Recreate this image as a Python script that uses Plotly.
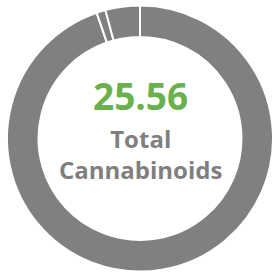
import plotly.graph_objects as go

labels = ["Cannabinoid C", "Cannabinoid B", "Cannabinoid A"]
values = [24.21, 0.28, 1.07]
total_label = "25.56"
subtitle = "Total<br>Cannabinoids"

W, H = 274, 275
cx, cy, R = 140, 138.5, 133

fig = go.Figure(go.Pie(
    labels=labels, values=values, sort=False, direction="clockwise",
    rotation=0, hole=0.763, textinfo="none", hoverinfo="none",
    marker=dict(colors=["#808080"] * len(values), line=dict(color="white", width=2)),
    domain=dict(x=[(cx - R) / W, (cx + R) / W], y=[(H - cy - R) / H, (H - cy + R) / H]),
    showlegend=False,
))

fig.add_annotation(text="<b>" + total_label + "</b>", x=cx / W, y=1 - 95 / H,
                   xref="paper", yref="paper", showarrow=False, xanchor="center", yanchor="middle",
                   font=dict(family="Open Sans", size=37, color="#6ab04c"))
fig.add_annotation(text="<b>" + subtitle + "</b>", x=cx / W, y=1 - 154 / H,
                   xref="paper", yref="paper", showarrow=False, xanchor="center", yanchor="middle",
                   font=dict(family="Open Sans", size=24, color="#7f7f7f"))

fig.update_layout(width=W, height=H, margin=dict(l=0, r=0, t=0, b=0),
                  paper_bgcolor="white", plot_bgcolor="white")
fig.write_html("out.html", config={"displayModeBar": False},
               post_script="document.body.style.margin='0';")
